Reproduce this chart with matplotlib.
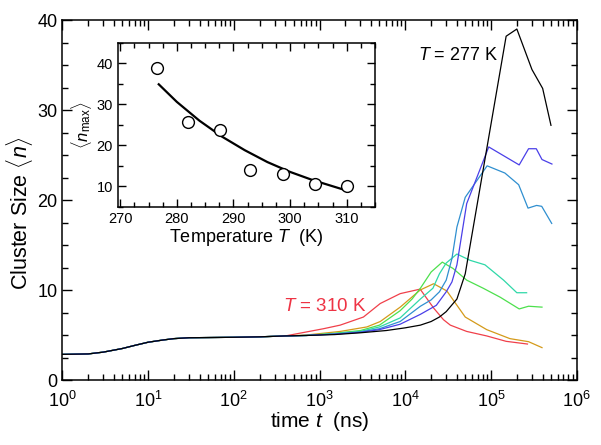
import numpy as np
import matplotlib
matplotlib.use("Agg")
import matplotlib.pyplot as plt
from matplotlib.ticker import MultipleLocator, LogLocator, NullFormatter

plt.rcParams["font.family"] = ["Liberation Sans", "DejaVu Sans"]
plt.rcParams["mathtext.fontset"] = "custom"
plt.rcParams["mathtext.rm"] = "Liberation Sans"
plt.rcParams["mathtext.it"] = "Liberation Sans:italic"

# shared early part (all temperatures overlap here)
t_early = [1, 2, 3, 5, 7, 10, 15, 20, 30, 50, 100, 200, 400]
n_early = [2.85, 2.9, 3.1, 3.5, 3.85, 4.2, 4.45, 4.6, 4.7, 4.72, 4.75, 4.8, 4.9]

# late part per temperature
t_277 = [700, 1500, 3000, 6000, 10000, 15000, 20000, 25000, 30000, 40000, 50000,
         150000, 200000, 300000, 400000, 500000]
n_277 = [4.95, 5.05, 5.25, 5.5, 5.8, 6.1, 6.5, 7.0, 7.6, 9.0, 11.8,
         38.2, 39.0, 34.5, 32.4, 28.3]

t_282 = [700, 1500, 3000, 5000, 8700, 15000, 23000, 30000, 35000, 40000, 52000,
         94000, 213000, 274000, 337000, 393000, 513000]
n_282 = [4.95, 5.1, 5.3, 5.6, 6.2, 7.3, 8.3, 9.8, 10.9, 12.8, 19.6,
         25.9, 23.9, 25.7, 25.7, 24.5, 24.0]

t_288 = [700, 1500, 3000, 5000, 8700, 15000, 20000, 25000, 30000, 35000, 40000,
         50000, 90000, 145000, 210000, 270000, 340000, 390000, 510000]
n_288 = [4.95, 5.1, 5.35, 5.7, 6.5, 8.2, 8.9, 9.8, 11.1, 13.5, 17.0,
         20.3, 23.8, 23.0, 21.7, 19.1, 19.4, 19.3, 17.4]

t_293 = [700, 1500, 3000, 5000, 8700, 15000, 21000, 25000, 30000, 40000, 57000,
         85000, 140000, 200000, 260000]
n_293 = [4.95, 5.15, 5.4, 5.9, 6.9, 9.0, 10.2, 11.8, 13.0, 14.0, 13.3,
         12.8, 11.1, 9.7, 9.7]

t_299 = [700, 1500, 3000, 5000, 8700, 12000, 15000, 20000, 27000, 36000, 52000,
         81000, 128000, 213000, 274000, 393000]
n_299 = [4.95, 5.2, 5.5, 6.1, 7.7, 9.0, 10.2, 12.0, 13.1, 12.4, 11.1,
         10.2, 9.2, 7.9, 8.2, 8.1]

t_304 = [700, 1740, 3565, 5100, 8720, 14900, 21400, 30500, 50000, 89000, 166000,
         274000, 393000]
n_304 = [5.0, 5.4, 5.9, 6.5, 8.1, 10.0, 10.7, 9.9, 7.0, 5.6, 4.6, 4.26, 3.6]

t_310 = [454, 1110, 1740, 3250, 5100, 8720, 14900, 21400, 27900, 33500, 52000,
         89000, 150000, 266000]
n_310 = [5.0, 5.7, 6.1, 7.0, 8.5, 9.6, 10.1, 8.0, 6.7, 6.1, 5.4, 4.9, 4.3, 4.0]

series = [
    (t_310, n_310, "#f0404a"),
    (t_304, n_304, "#d49a1a"),
    (t_299, n_299, "#4de04d"),
    (t_293, n_293, "#2fd8a8"),
    (t_288, n_288, "#2f8fd0"),
    (t_282, n_282, "#4a3fe8"),
    (t_277, n_277, "#000000"),
]

# inset: maximum cluster size vs temperature
T_pts = [276.5, 282.0, 287.6, 293.0, 298.7, 304.4, 310.0]
nmax_pts = [38.8, 25.8, 23.8, 14.0, 13.0, 10.6, 10.1]
T_fit = [276.8, 280, 284, 288, 292, 296, 300, 304, 309.4]
nmax_fit = [34.9, 30.6, 26.0, 22.1, 18.8, 15.9, 13.5, 11.5, 9.2]

fig = plt.figure(figsize=(6.01, 4.45), dpi=100)
ax = fig.add_axes([0.1037, 0.146, 0.856, 0.809])

for t, n, c in series:
    ax.plot(t_early + t, n_early + n, color=c, lw=0.9)

ax.set_xscale("log")
ax.set_xlim(1, 1e6)
ax.set_ylim(0, 40)
ax.set_xticks([1e0, 1e1, 1e2, 1e3, 1e4, 1e5, 1e6])
ax.yaxis.set_major_locator(MultipleLocator(10))
ax.yaxis.set_minor_locator(MultipleLocator(2.5))
ax.xaxis.set_minor_locator(LogLocator(base=10, subs=np.arange(2, 10), numticks=20))
ax.xaxis.set_minor_formatter(NullFormatter())
ax.tick_params(which="both", direction="in", top=True, right=True, labelsize=13)
ax.tick_params(axis="x", which="major", pad=8)
ax.tick_params(which="major", length=7, width=1)
ax.tick_params(which="minor", length=4, width=1)
for s in ax.spines.values():
    s.set_linewidth(1.1)
ax.set_xlabel(r"time $t$  (ns)", fontsize=15, labelpad=-1)
ax.set_ylabel(r"Cluster Size $\langle n \rangle$", fontsize=15.5)
ax.yaxis.set_label_coords(-0.053, 0.464)

ax.text(1.42e4, 36.1, r"$T$ = 277 K", fontsize=13, va="center", ha="left")
ax.text(376, 8.2, r"$T$ = 310 K", fontsize=13.5, va="center", ha="left", color="#ee3344")

ins = fig.add_axes([0.1963, 0.5355, 0.4276, 0.368])
ins.plot(T_fit, nmax_fit, color="black", lw=1.6)
ins.plot(T_pts, nmax_pts, "o", ms=8.5, mfc="white", mec="black", mew=1.0)
ins.set_xlim(269.6, 315)
ins.set_ylim(5, 45)
ins.xaxis.set_major_locator(MultipleLocator(10))
ins.xaxis.set_minor_locator(MultipleLocator(2.5))
ins.yaxis.set_major_locator(MultipleLocator(10))
ins.yaxis.set_minor_locator(MultipleLocator(5))
ins.tick_params(which="both", direction="in", top=True, right=True, labelsize=10.5)
ins.tick_params(which="major", length=6, width=1)
ins.tick_params(which="minor", length=3.5, width=1)
for s in ins.spines.values():
    s.set_linewidth(1.1)
ins.set_xlabel(r"Temperature $T$  (K)", fontsize=13, labelpad=1)
ins.set_ylabel(r"$\langle n_{\rm max} \rangle$", fontsize=12, labelpad=2)

fig.savefig("out.png", dpi=100)
